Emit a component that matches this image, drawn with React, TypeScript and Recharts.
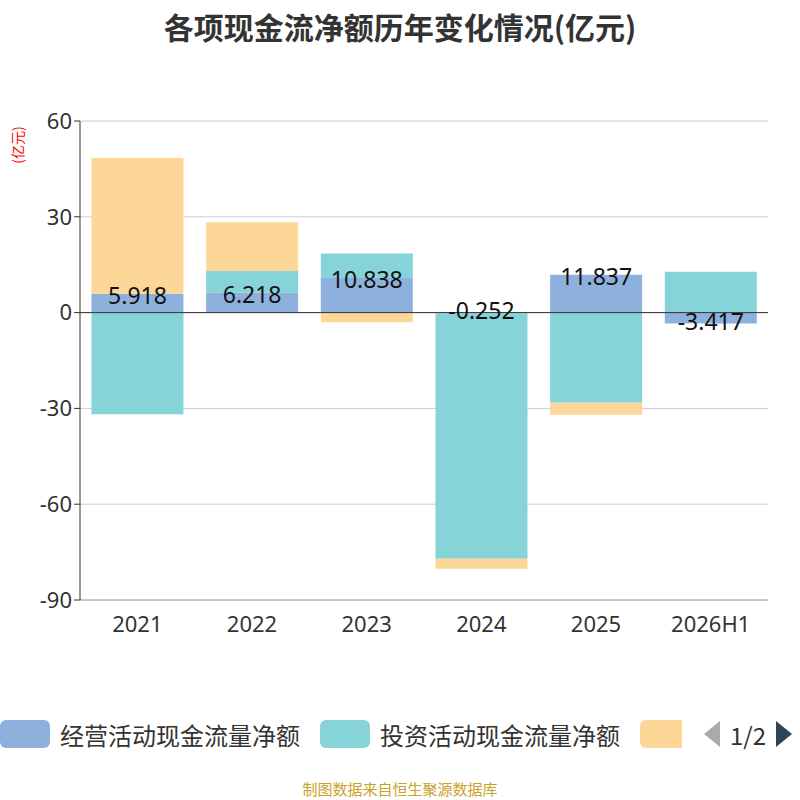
import { BarChart, Bar, XAxis, YAxis, CartesianGrid, ReferenceLine, LabelList } from "recharts";

const years = ["2021", "2022", "2023", "2024", "2025", "2026H1"];
const operating = [5.918, 6.218, 10.838, -0.252, 11.837, -3.417];
const investing = [-31.8, 6.8, 7.7, -76.8, -28.2, 12.8];
const financing = [42.5, 15.3, -3.0, -3.2, -3.8, 0];

const data = years.map((year, i) => ({
  year,
  operating: operating[i],
  investing: investing[i],
  financing: financing[i],
}));

const legendItems = [
  { name: "经营活动现金流量净额", color: "#8eb0dc" },
  { name: "投资活动现金流量净额", color: "#86d4d8" },
];

export default function App() {
  return (
    <div style={{ position: "absolute", left: 0, top: 0, width: 800, height: 800, background: "#fff", fontFamily: "'Noto Sans CJK SC', 'Noto Sans', sans-serif", overflow: "hidden" }}>
      <div style={{ position: "absolute", top: 4, width: 800, textAlign: "center", fontSize: 30, fontWeight: "bold", color: "#333" }}>
        各项现金流净额历年变化情况(亿元)
      </div>
      <div style={{ position: "absolute", left: -10, top: 135, width: 54, textAlign: "center", color: "red", fontSize: 14, transform: "rotate(-90deg)" }}>
        (亿元)
      </div>
      <BarChart width={800} height={800} data={data} stackOffset="sign" barCategoryGap="10%"
        margin={{ top: 121, right: 32, bottom: 170, left: 30 }}>
        <CartesianGrid horizontal vertical={false} stroke="#ccc" />
        <XAxis dataKey="year" tickLine={false} axisLine={{ stroke: "#aaa" }} tick={{ fontSize: 22, fill: "#333", fontFamily: "'Noto Sans', sans-serif" }} tickMargin={10} />
        <YAxis domain={[-90, 60]} ticks={[-90, -60, -30, 0, 30, 60]} width={50} axisLine={{ stroke: "#333" }} tickLine={{ stroke: "#333" }} tick={{ fontSize: 22, fill: "#333", fontFamily: "'Noto Sans', sans-serif" }} />
        <ReferenceLine y={0} stroke="#333" />
        <Bar dataKey="operating" stackId="a" fill="#8eb0dc" isAnimationActive={false}>
          <LabelList dataKey="operating" position="insideTop" offset={-6} style={{ fontSize: 23, fill: "#111", fontFamily: "'Noto Sans', sans-serif" }} />
        </Bar>
        <Bar dataKey="investing" stackId="a" fill="#86d4d8" isAnimationActive={false} />
        <Bar dataKey="financing" stackId="a" fill="#fdd797" isAnimationActive={false} />
      </BarChart>
      <div style={{ position: "absolute", top: 716, left: 0, width: 800, height: 36, display: "flex", alignItems: "center", fontSize: 24, color: "#333", whiteSpace: "nowrap" }}>
        {legendItems.map((it) => (
          <div key={it.name} style={{ display: "flex", alignItems: "center", marginRight: 20 }}>
            <div style={{ width: 50, height: 28, borderRadius: 6, background: it.color, marginRight: 10 }} />
            {it.name}
          </div>
        ))}
        <div style={{ width: 50, height: 28, borderRadius: 6, background: "#fdd797" }} />
        <div style={{ position: "absolute", left: 682, top: 0, width: 118, height: 36, background: "#fff", display: "flex", alignItems: "center" }}>
          <svg width={20} height={30} style={{ marginLeft: 20 }}><polygon points="18,2 18,28 2,15" fill="#aaa" /></svg>
          <span style={{ margin: "0 8px" }}>1/2</span>
          <svg width={20} height={30}><polygon points="2,2 2,28 18,15" fill="#2f4554" /></svg>
        </div>
      </div>
      <div style={{ position: "absolute", top: 778, width: 800, textAlign: "center", fontSize: 15, color: "#c9a22a" }}>
        制图数据来自恒生聚源数据库
      </div>
    </div>
  );
}
